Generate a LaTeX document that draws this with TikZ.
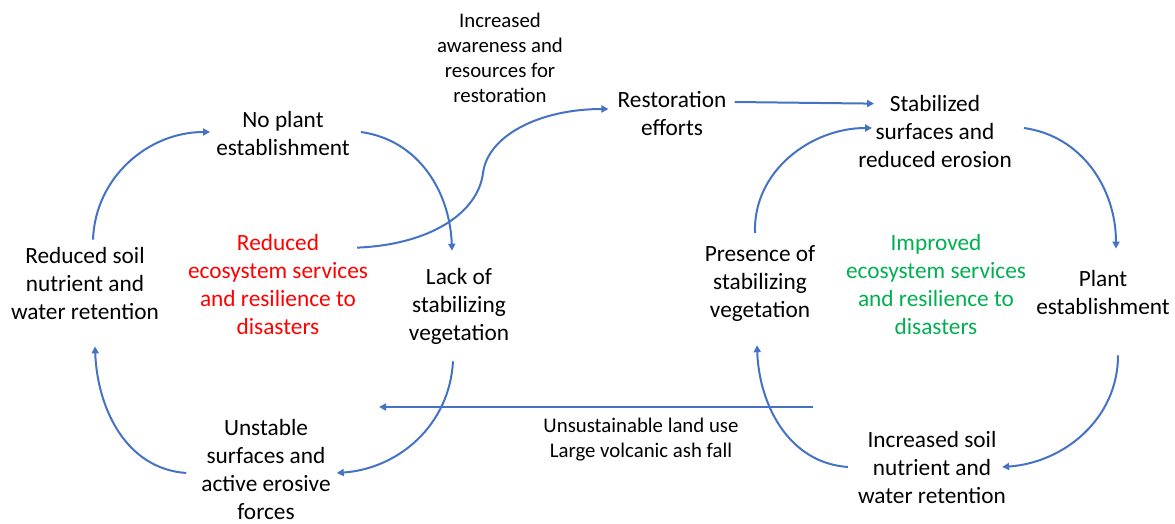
\documentclass[tikz,border=0pt]{standalone}
\usepackage{fontspec}
\setmainfont{Carlito}
\usetikzlibrary{arrows.meta}
\definecolor{flow}{HTML}{4472C4}
\definecolor{bad}{HTML}{FF0000}
\definecolor{good}{HTML}{00B050}
\tikzset{
  lbl/.style={align=center, inner sep=0pt, font=\fontsize{23.3}{28}\selectfont},
  small/.style={align=center, inner sep=0pt, font=\fontsize{20.8}{25}\selectfont},
  flowarrow/.style={draw=flow, line width=2pt, -{Triangle[length=7pt,width=7pt]}},
}
\begin{document}
\begin{tikzpicture}[x=1pt,y=1pt]
\useasboundingbox (0,0) rectangle (1175,-524);

% degraded cycle
\node[lbl] (noplant) at (283,-133) {No plant\\establishment};
\node[lbl] (soilL) at (85,-283) {Reduced soil\\nutrient and\\water retention};
\node[lbl, text=bad] (red) at (278,-284) {Reduced\\ecosystem services\\and resilience to\\disasters};
\node[lbl] (lack) at (459,-306) {Lack of\\stabilizing\\vegetation};
\node[lbl] (unstable) at (266,-469) {Unstable\\surfaces and\\active erosive\\forces};

% restored cycle
\node[small] (aware) at (500,-58) {Increased\\awareness and\\resources for\\restoration};
\node[lbl] (restore) at (672,-114) {Restoration\\efforts};
\node[lbl] (stab) at (935,-131) {Stabilized\\surfaces and\\reduced erosion};
\node[lbl] (presence) at (760,-284) {Presence of\\stabilizing\\vegetation};
\node[lbl, text=good] (green) at (936,-284) {Improved\\ecosystem services\\and resilience to\\disasters};
\node[lbl] (plantest) at (1103,-292) {Plant\\establishment};
\node[lbl] (soilR) at (932,-467) {Increased soil\\nutrient and\\water retention};
\node[small] (unsust) at (641,-440) {Unsustainable land use\\Large volcanic ash fall};

% degraded loop arrows
\draw[flowarrow] ([shift={(8,7)}]soilL.north) to[out=88,in=180] ([shift={(-6,1)}]noplant.west);
\draw[flowarrow] ([shift={(11,1)}]noplant.east) to[out=-8,in=92] ([shift={(-7,17)}]lack.north);
\draw[flowarrow] ([shift={(-6,-17)}]lack.south) to[out=-93,in=4] ([shift={(6,-4)}]unstable.east);
\draw[flowarrow] ([shift={(-15,-4)}]unstable.west) to[out=176,in=-88] ([shift={(10,-27)}]soilL.south);

% path from degradation to restoration
\coordinate (bend) at (483,-173);
\draw[flowarrow] ([shift={(-11,-14)}]red.north east)
  .. controls +(73,3) and +(-5,-40) .. (bend)
  .. controls +(5,38) and +(-68,0) .. ([shift={(-9,5)}]restore.west);
\draw[flowarrow] ([shift={(8,12)}]restore.east) -- ([shift={(16,-9)}]stab.north west);

% restored loop arrows
\draw[flowarrow] ([shift={(-5,13)}]presence.north) to[out=92,in=180] ([shift={(14,3)}]stab.west);
\draw[flowarrow] ([shift={(12,3)}]stab.east) to[out=-8,in=90] ([shift={(13,21)}]plantest.north);
\draw[flowarrow] ([shift={(15,-41)}]plantest.south) to[out=-90,in=4] ([shift={(-4,0)}]soilR.east);
\draw[flowarrow] ([shift={(-10,0)}]soilR.west) to[out=176,in=-88] ([shift={(-3,-23)}]presence.south);

% disturbance pushing back into degradation
\coordinate (pushR) at (813,-407);
\coordinate (pushL) at (379,-407);
\draw[flowarrow] (pushR) -- (pushL);
\end{tikzpicture}
\end{document}
